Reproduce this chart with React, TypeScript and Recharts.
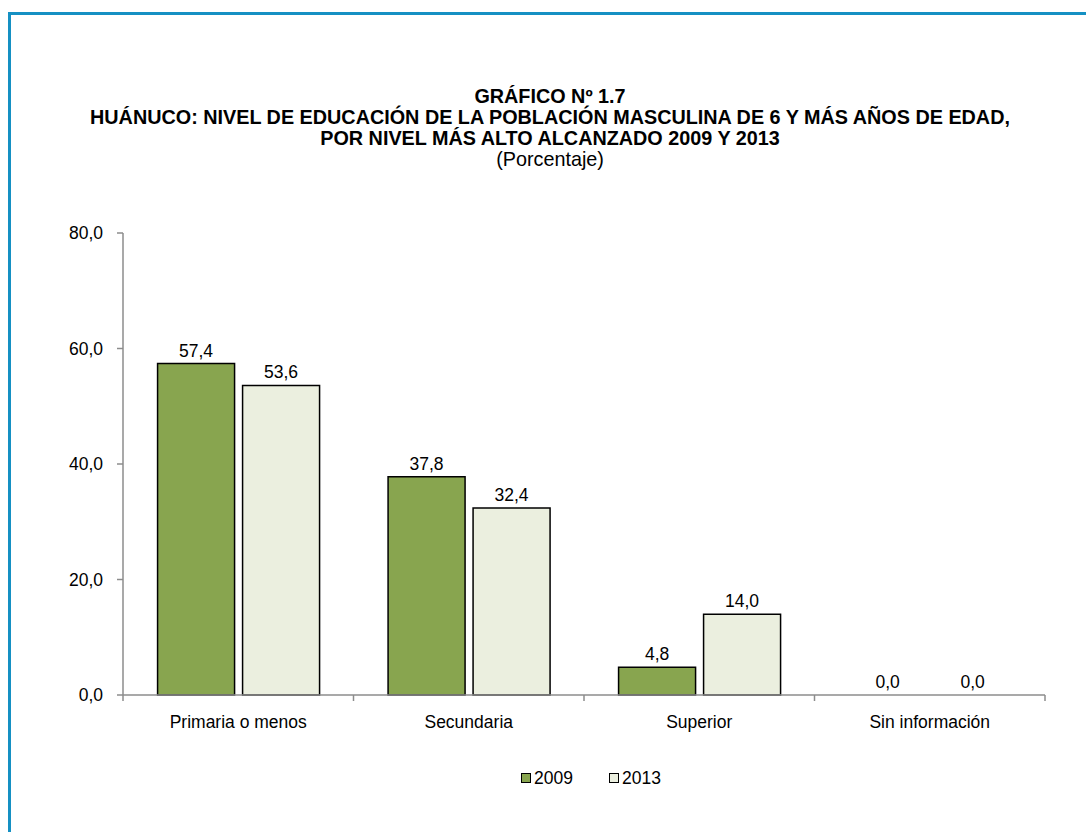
import { BarChart, Bar, XAxis, YAxis, LabelList, Cell } from 'recharts';

const CATEGORIES = ['Primaria o menos', 'Secundaria', 'Superior', 'Sin información'];
const VALUES_2009 = [57.4, 37.8, 4.8, 0.0];
const VALUES_2013 = [53.6, 32.4, 14.0, 0.0];
const Y_TICKS = [0, 20, 40, 60, 80];

const TITLE_LINES = [
  'GRÁFICO Nº 1.7',
  'HUÁNUCO: NIVEL DE EDUCACIÓN DE LA POBLACIÓN MASCULINA DE 6 Y MÁS AÑOS DE EDAD,',
  'POR NIVEL MÁS ALTO ALCANZADO 2009 Y 2013',
];
const SUBTITLE = '(Porcentaje)';

const FONT = '"Liberation Sans Narrow", "Arial Narrow", "Liberation Sans", Arial, sans-serif';
const GREEN = '#88a54f';
const PALE = '#ebefdf';
const AXIS = '#8c8c8c';

const data = CATEGORIES.map((name, i) => ({
  name,
  y2009: VALUES_2009[i],
  y2013: VALUES_2013[i],
}));

const fmt = (v: number) => v.toFixed(1).replace('.', ',');

const textStyle = { fill: '#000', fontFamily: FONT, fontSize: 17.5 };

function CategoryTick(props: any) {
  const { x, y, payload, index, width } = props;
  const band = (width || 922) / CATEGORIES.length;
  const axisY = y - 8;
  const left = x - band / 2;
  return (
    <g>
      <line x1={left} x2={left} y1={axisY} y2={axisY + 6} stroke={AXIS} strokeWidth={1.5} />
      {index === CATEGORIES.length - 1 && (
        <line x1={x + band / 2} x2={x + band / 2} y1={axisY} y2={axisY + 6} stroke={AXIS} strokeWidth={1.5} />
      )}
      <text x={x} y={axisY + 33} textAnchor="middle" fontFamily={FONT} fontSize={17.5} fill="#000">
        {payload.value}
      </text>
    </g>
  );
}

function Legend() {
  const items = [
    { label: '2009', color: GREEN },
    { label: '2013', color: PALE },
  ];
  return (
    <div
      style={{
        position: 'absolute',
        top: 768,
        left: 521,
        display: 'flex',
        gap: 36,
        fontFamily: FONT,
        fontSize: 17.5,
        lineHeight: '20px',
      }}
    >
      {items.map((it) => (
        <div key={it.label} style={{ display: 'flex', alignItems: 'center' }}>
          <span
            style={{
              display: 'inline-block',
              width: 8,
              height: 8,
              border: '1.5px solid #000',
              background: it.color,
              marginRight: 3,
            }}
          />
          {it.label}
        </div>
      ))}
    </div>
  );
}

export default function App() {
  return (
    <div
      style={{
        position: 'fixed',
        left: 0,
        top: 0,
        width: 1086,
        height: 832,
        overflow: 'hidden',
        background: '#fff',
      }}
    >
      <div
        style={{
          position: 'absolute',
          left: 8,
          top: 12,
          width: 1200,
          height: 1000,
          border: '3px solid #1590c3',
        }}
      />
      <div
        style={{
          position: 'absolute',
          top: 86,
          left: 0,
          width: 1100,
          textAlign: 'center',
          fontFamily: FONT,
          fontSize: 19.8,
          lineHeight: '21px',
          color: '#000',
        }}
      >
        {TITLE_LINES.map((t) => (
          <div key={t} style={{ fontWeight: 'bold' }}>
            {t}
          </div>
        ))}
        <div>{SUBTITLE}</div>
      </div>
      <div style={{ position: 'absolute', left: 0, top: 0 }}>
        <BarChart
          width={1086}
          height={832}
          data={data}
          margin={{ top: 233, right: 41, bottom: 107, left: 63 }}
          barCategoryGap="15%"
          barGap={8}
        >
          <XAxis
            dataKey="name"
            stroke={AXIS}
            strokeWidth={1.5}
            tickLine={false}
            tick={<CategoryTick />}
            height={30}
            interval={0}
          />
          <YAxis
            width={60}
            domain={[0, 80]}
            ticks={Y_TICKS}
            tickFormatter={fmt}
            stroke={AXIS}
            strokeWidth={1.5}
            tickSize={6}
            tickMargin={14}
            tick={textStyle}
          />
          <Bar
            dataKey="y2009"
            fill={GREEN}
            stroke="#000"
            strokeWidth={1.5}
            minPointSize={0.01}
            isAnimationActive={false}
          >
            {VALUES_2009.map((v, i) => (
              <Cell key={i} stroke={v === 0 ? 'none' : '#000'} fill={v === 0 ? 'none' : GREEN} />
            ))}
            <LabelList
              dataKey="y2009"
              position="top"
              offset={7}
              formatter={(v: any) => fmt(Number(v))}
              style={textStyle}
            />
          </Bar>
          <Bar
            dataKey="y2013"
            fill={PALE}
            stroke="#000"
            strokeWidth={1.5}
            minPointSize={0.01}
            isAnimationActive={false}
          >
            {VALUES_2013.map((v, i) => (
              <Cell key={i} stroke={v === 0 ? 'none' : '#000'} fill={v === 0 ? 'none' : PALE} />
            ))}
            <LabelList
              dataKey="y2013"
              position="top"
              offset={7}
              formatter={(v: any) => fmt(Number(v))}
              style={textStyle}
            />
          </Bar>
        </BarChart>
      </div>
      <Legend />
    </div>
  );
}
